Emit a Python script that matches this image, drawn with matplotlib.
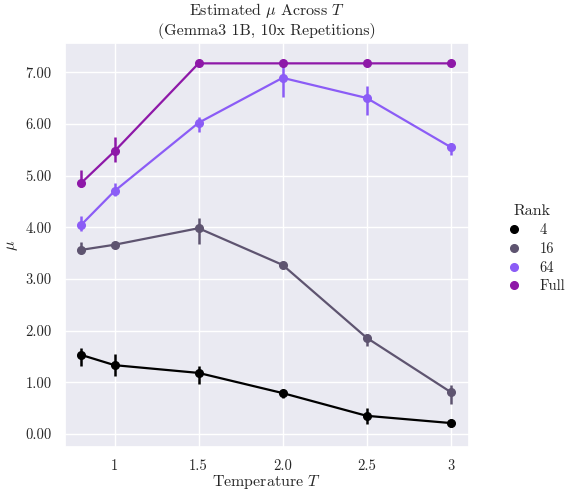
import matplotlib
matplotlib.use("Agg")
import matplotlib.pyplot as plt
from matplotlib.lines import Line2D
import seaborn as sns
import numpy as np

sns.set_theme(style="darkgrid")
plt.rcParams['font.family'] = ['cmr10', 'DejaVu Serif']
plt.rcParams['mathtext.fontset'] = 'cm'
plt.rcParams['axes.formatter.use_mathtext'] = True
plt.rcParams['axes.unicode_minus'] = False

temps = [0.8, 1.0, 1.5, 2.0, 2.5, 3.0]
ranks = ["4", "16", "64", "Full"]
colors = ["#000000", "#5e5470", "#8b5cf6", "#8e18a8"]

mu_4 = [1.53, 1.33, 1.18, 0.79, 0.35, 0.21]
lo_4 = [1.32, 1.12, 0.97, 0.70, 0.19, 0.14]
hi_4 = [1.66, 1.55, 1.32, 0.85, 0.50, 0.29]

mu_16 = [3.56, 3.66, 3.98, 3.27, 1.86, 0.81]
lo_16 = [3.54, 3.64, 3.68, 3.25, 1.70, 0.58]
hi_16 = [3.71, 3.68, 4.18, 3.29, 1.93, 0.95]

mu_64 = [4.04, 4.70, 6.02, 6.89, 6.50, 5.55]
lo_64 = [3.93, 4.60, 5.84, 6.52, 6.17, 5.40]
hi_64 = [4.22, 4.85, 6.13, 7.14, 6.73, 5.63]

mu_full = [4.85, 5.47, 7.17, 7.17, 7.17, 7.17]
lo_full = [4.77, 5.26, 7.17, 7.17, 7.17, 7.17]
hi_full = [5.10, 5.74, 7.17, 7.17, 7.17, 7.17]

series = [(mu_4, lo_4, hi_4), (mu_16, lo_16, hi_16),
          (mu_64, lo_64, hi_64), (mu_full, lo_full, hi_full)]

xticks = [1, 1.5, 2.0, 2.5, 3]
xticklabels = ["1", "1.5", "2.0", "2.5", "3"]
yticks = [0, 1, 2, 3, 4, 5, 6, 7]

fig = plt.figure(figsize=(5.75, 4.91), dpi=100)
ax = fig.add_axes([0.113, 0.09, 0.702, 0.822])

for (mu, lo, hi), c in zip(series, colors):
    mu = np.array(mu); lo = np.array(lo); hi = np.array(hi)
    ax.plot(temps, mu, color=c, lw=1.6, marker='o', ms=5.5, zorder=3)
    ax.vlines(temps, lo, hi, color=c, lw=1.8, zorder=3)

ax.set_xticks(xticks)
ax.set_xticklabels(xticklabels)
ax.set_yticks(yticks)
ax.set_yticklabels([f"{v:.2f}" for v in yticks])
ax.set_xlim(0.705, 3.107)
ax.set_ylim(-0.25, 7.56)
ax.tick_params(labelsize=10.5)
ax.tick_params(axis='x', pad=3)
ax.set_xlabel("Temperature $T$", fontsize=11.5, labelpad=0)
ax.set_ylabel(r"$\mu$", fontsize=11.5)
ax.set_title("Estimated $\\mu$ Across $T$\n(Gemma3 1B, 10x Repetitions)", fontsize=11.5)

handles = [Line2D([], [], color=c, marker='o', ls='', ms=5.5) for c in colors]
fig.legend(handles, ranks, title="Rank", loc='center left',
           bbox_to_anchor=(0.845, 0.493), frameon=False, fontsize=10.5,
           title_fontsize=11.5, labelspacing=0.35)

fig.savefig("out.png", dpi=100)
